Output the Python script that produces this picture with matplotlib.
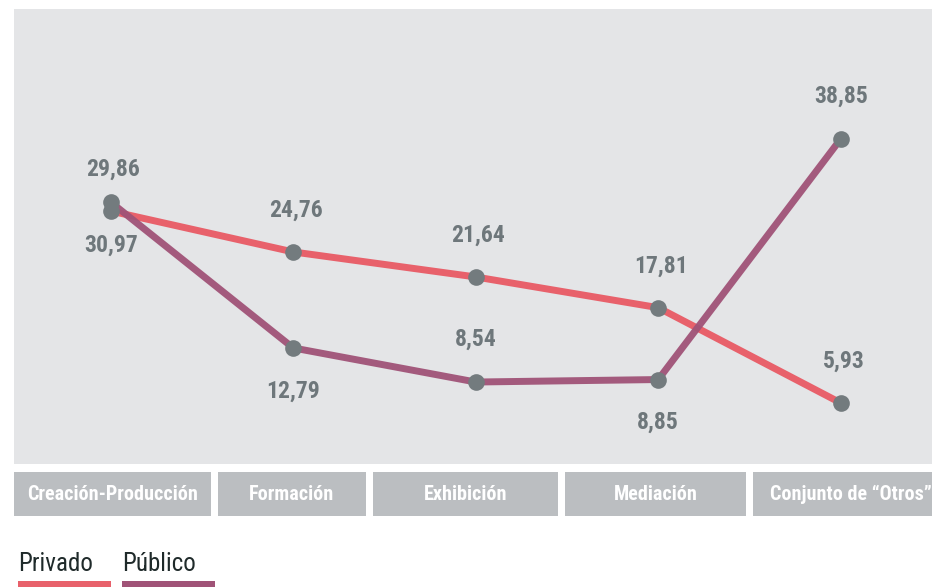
## line chart: privado vs publico by activity area
import matplotlib
matplotlib.use('Agg')
import matplotlib.pyplot as plt
from matplotlib.patches import Rectangle

categorias = ['Creación-Producción', 'Formación', 'Exhibición', 'Mediación', 'Conjunto de “Otros”']
privado = [29.86, 24.76, 21.64, 17.81, 5.93]
publico = [30.97, 12.79, 8.54, 8.85, 38.85]
# label position relative to the point: +1 above, -1 below
pos_privado = [1, 1, 1, 1, 1]
pos_publico = [-1, -1, 1, -1, 1]

c_priv = '#E8616B'
c_pub = '#A05377'
c_dot = '#737B7E'
c_lbl = '#6E777B'
c_box = '#BBBEC1'
c_panel = '#E4E5E7'

fnt = ['Roboto Condensed', 'Roboto', 'DejaVu Sans']

W, H = 932, 587
fig = plt.figure(figsize=(W/100, H/100), dpi=100)
fig.patch.set_facecolor('white')

ax = fig.add_axes([14/W, (H-464)/H, 1-14/W, 455/H])
ax.set_facecolor(c_panel)
for s in ax.spines.values():
    s.set_visible(False)
ax.set_xticks([])
ax.set_yticks([])

x = list(range(len(categorias)))
ax.plot(x, privado, color=c_priv, linewidth=5, solid_capstyle='round', zorder=2)
ax.plot(x, publico, color=c_pub, linewidth=5, solid_capstyle='round', alpha=0.95, zorder=3)
ax.plot(x, privado, 'o', color=c_dot, markersize=12, markeredgewidth=0, zorder=4)
ax.plot(x, publico, 'o', color=c_dot, markersize=12, markeredgewidth=0, zorder=4)

ax.set_xlim(-0.53, 4.5)
ax.set_ylim(-1.68, 55.05)

def lab(v):
    return ('%.2f' % v).replace('.', ',')

for xi, v, p in zip(x, privado, pos_privado):
    ax.annotate(lab(v), (xi, v), xytext=(2, 30*p), textcoords='offset points',
                ha='center', va='center', fontsize=17, fontweight='bold',
                color=c_lbl, family=fnt, zorder=5)
for xi, v, p in zip(x, publico, pos_publico):
    ax.annotate(lab(v), (xi, v), xytext=(0, 31*p), textcoords='offset points',
                ha='center', va='center', fontsize=17, fontweight='bold',
                color=c_lbl, family=fnt, zorder=5)

# category boxes under the panel (edges in pixels)
cajas = [(14, 211), (218, 366), (373, 558), (565, 746), (753, 960)]
for (x0, x1), cat in zip(cajas, categorias):
    fig.add_artist(Rectangle((x0/W, (H-516)/H), (x1-x0)/W, 44/H,
                             transform=fig.transFigure,
                             facecolor=c_box, edgecolor='none'))
    if x1 > W:
        fig.text(770/W, (H-494)/H, cat, ha='left', va='center', fontsize=14.5,
                 fontweight='bold', color='white', family=fnt)
    else:
        fig.text((x0+x1)/2/W, (H-494)/H, cat, ha='center', va='center',
                 fontsize=14.5, fontweight='bold', color='white', family=fnt)

# legend
fig.text(18/W, (H-571)/H, 'Privado', ha='left', va='baseline', fontsize=18,
         color='#1F2A2A', family=fnt)
fig.text(122/W, (H-571)/H, 'Público', ha='left', va='baseline', fontsize=18,
         color='#1F2A2A', family=fnt)
fig.add_artist(Rectangle((18/W, 0), 93/W, 6/H, transform=fig.transFigure,
                         facecolor=c_priv, edgecolor='none'))
fig.add_artist(Rectangle((122/W, 0), 93/W, 6/H, transform=fig.transFigure,
                         facecolor=c_pub, edgecolor='none'))

fig.savefig('out.png', dpi=100, facecolor='white')
